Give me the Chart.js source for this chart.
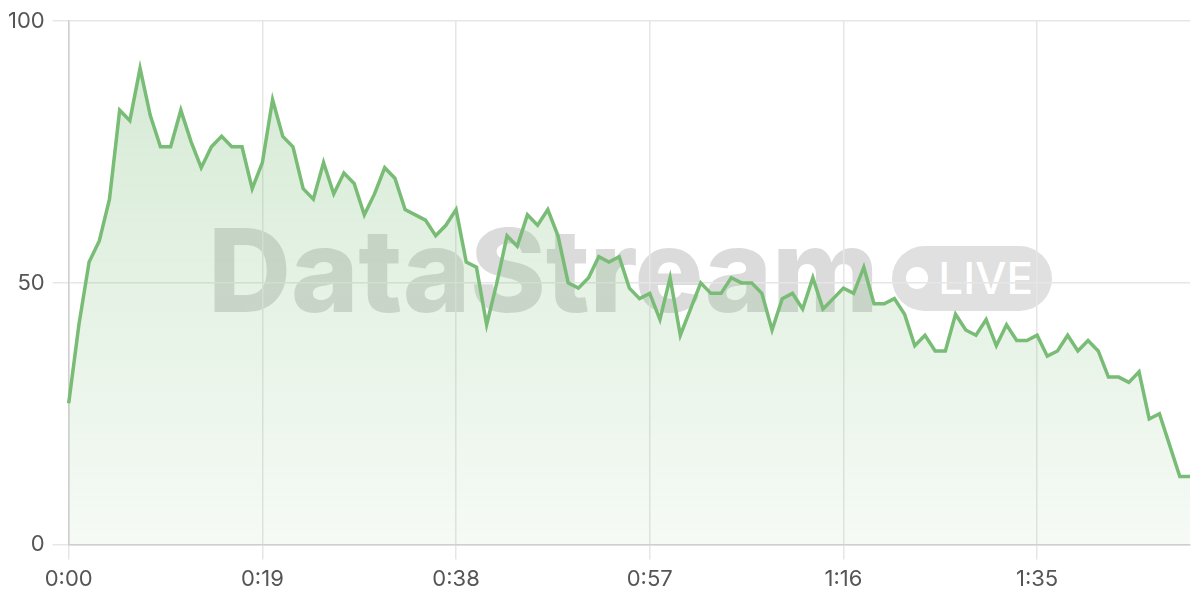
<!DOCTYPE html>
<html>
<head>
<meta charset="utf-8">
<script src="https://cdn.jsdelivr.net/npm/chart.js@4/dist/chart.umd.min.js"></script>
<style>
  html, body { margin: 0; padding: 0; background: #fff; }
  .wrap { position: relative; width: 1200px; height: 600px; }
  .watermark {
    position: absolute; left: 208px; top: 210px; height: 120px;
    display: flex; align-items: center; z-index: 0;
    font-family: Inter, "Open Sans", sans-serif;
  }
  .watermark .brand {
    font-size: 115px; font-weight: 800; letter-spacing: -0.2px;
    color: rgba(0, 0, 0, 0.14);
  }
  .watermark .live {
    margin-left: 14px; height: 65px; padding: 0 19px 0 14px;
    position: relative; top: 8px;
    border-radius: 33px; background: rgba(0, 0, 0, 0.12);
    color: #fff; font-size: 44px; font-weight: 500;
    display: flex; align-items: center;
  }
  .watermark .dot {
    width: 22px; height: 22px; border-radius: 50%; background: #fff;
    margin-right: 10px;
  }
  canvas { position: relative; z-index: 1; }
</style>
</head>
<body>
<div class="wrap">
  <div class="watermark"><span class="brand">DataStream</span><span class="live"><span class="dot"></span>LIVE</span></div>
  <canvas id="chart" width="1200" height="600"></canvas>
</div>
<script>
/* values, one per second */
const values = [
  27, 42, 54, 58, 66, 83, 81, 91, 82, 76,
  76, 83, 77, 72, 76, 78, 76, 76, 68, 73,
  85, 78, 76, 68, 66, 73, 67, 71, 69, 63,
  67, 72, 70, 64, 63, 62, 59, 61, 64, 54,
  53, 42, 50, 59, 57, 63, 61, 64, 59, 50,
  49, 51, 55, 54, 55, 49, 47, 48, 43, 51,
  40, 45, 50, 48, 48, 51, 50, 50, 48, 41,
  47, 48, 45, 51, 45, 47, 49, 48, 53, 46,
  46, 47, 44, 38, 40, 37, 37, 44, 41, 40,
  43, 38, 42, 39, 39, 40, 36, 37, 40, 37,
  39, 37, 32, 32, 31, 33, 24, 25, 19, 13,
  13
];
const tickLabels = ['0:00', '0:19', '0:38', '0:57', '1:16', '1:35'];
const yTicks = [0, 50, 100];

// categories: elapsed time m:ss
const seconds = values.map((v, i) => i);
const labels = seconds.map(s => Math.floor(s / 60) + ':' + String(s % 60).padStart(2, '0'));

const green = 'rgb(120, 188, 118)';
const ctx = document.getElementById('chart').getContext('2d');

const chart = new Chart(ctx, {
    type: 'line',
    data: {
        labels: labels,
        datasets: [{
            data: values,
            borderColor: green,
            borderWidth: 3.5,
            pointRadius: 0,
            tension: 0,
            fill: 'origin',
            backgroundColor: function(context) {
                const area = context.chart.chartArea;
                if (!area) return 'rgba(120,188,118,0.2)';
                const g = context.chart.ctx.createLinearGradient(0, area.top, 0, area.bottom);
                g.addColorStop(0, 'rgba(120, 188, 118, 0.32)');
                g.addColorStop(1, 'rgba(120, 188, 118, 0.07)');
                return g;
            }
        }]
    },
    options: {
        responsive: false,
        animation: false,
        layout: { padding: { top: 20, right: 10, left: 0, bottom: 0 } },
        plugins: {
            legend: { display: false },
            tooltip: { enabled: false }
        },
        scales: {
            x: {
                offset: false,
                grid: { color: '#e6e6e6', lineWidth: 1.5, tickLength: 15 },
                border: { color: '#cfcfcf', width: 1.5 },
                ticks: {
                    autoSkip: false,
                    maxRotation: 0,
                    color: '#555',
                    padding: 7,
                    font: { family: 'Inter', size: 22 },
                    callback: function(val, index) {
                        const l = this.getLabelForValue(val);
                        return tickLabels.includes(l) ? l : null;
                    }
                }
            },
            y: {
                min: 0,
                max: 100,
                afterBuildTicks: function(axis) {
                    axis.ticks = yTicks.map(v => ({ value: v }));
                },
                grid: { color: '#e6e6e6', lineWidth: 1.5, tickLength: 16 },
                border: { color: '#cfcfcf', width: 1.5 },
                ticks: {
                    color: '#555',
                    padding: 8,
                    font: { family: 'Inter', size: 22 }
                }
            }
        }
    }
});
</script>
</body>
</html>
